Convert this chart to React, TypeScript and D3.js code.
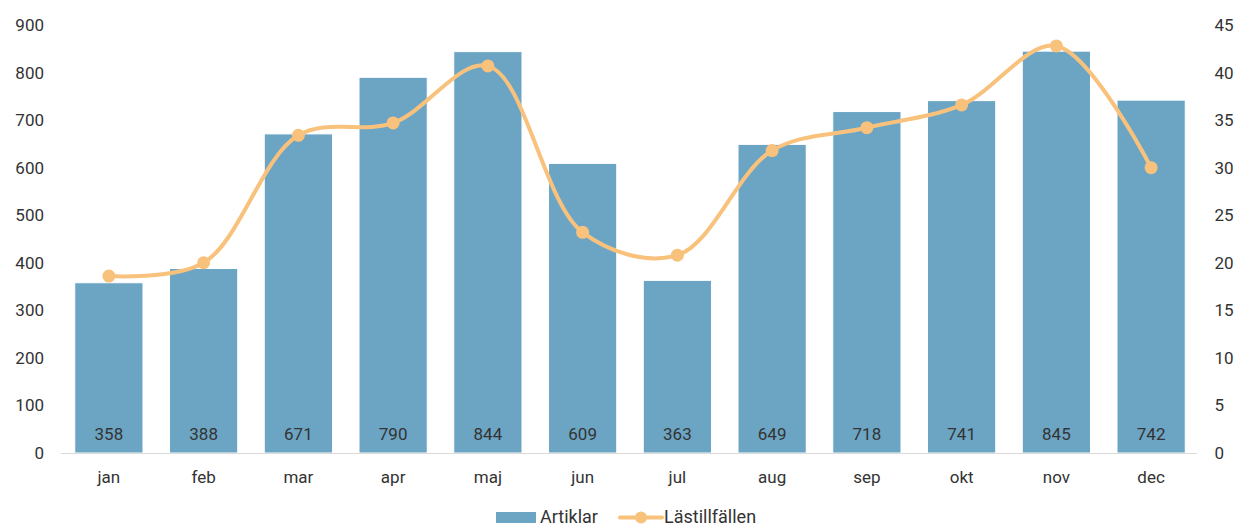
import React, { useEffect, useRef } from "react";
import * as d3 from "d3";

const months = ["jan", "feb", "mar", "apr", "maj", "jun", "jul", "aug", "sep", "okt", "nov", "dec"];
const artiklar = [358, 388, 671, 790, 844, 609, 363, 649, 718, 741, 845, 742];
const lastillfallen = [18.6, 20.0, 33.4, 34.7, 40.7, 23.2, 20.8, 31.8, 34.2, 36.6, 42.8, 30.0];
const leftTicks = [0, 100, 200, 300, 400, 500, 600, 700, 800, 900];
const rightTicks = [0, 5, 10, 15, 20, 25, 30, 35, 40, 45];

const BAR = "#6ca5c4";
const LINE = "#f9c27c";
const TEXT = "#333333";
const FS = "17px";

const App = () => {
  const ref = useRef<SVGSVGElement>(null);

  useEffect(() => {
    const width = 1239;
    const height = 526;
    const left = 61.5, right = 1198.5, top = 25, bottom = 453;

    const svg = d3.select(ref.current);
    svg.selectAll("*").remove();
    svg.attr("width", width).attr("height", height)
      .style("display", "block")
      .style("position", "absolute")
      .style("left", "0px")
      .style("top", "0px")
      .style("font-family", "Roboto, sans-serif");

    const x = d3.scaleBand().domain(months).range([left, right]).paddingInner(0.28).paddingOuter(0.14);
    const y = d3.scaleLinear().domain([0, 900]).range([bottom, top]);
    const y2 = d3.scaleLinear().domain([0, 45]).range([bottom, top]);

    // bars
    svg.append("g").selectAll("rect")
      .data(artiklar)
      .enter()
      .append("rect")
      .attr("x", (d, i) => x(months[i])!)
      .attr("y", (d) => y(d))
      .attr("width", x.bandwidth())
      .attr("height", (d) => bottom - y(d))
      .attr("fill", BAR)
      .attr("stroke", "#ffffff")
      .attr("stroke-width", 1);

    // baseline
    svg.append("line")
      .attr("x1", 61).attr("x2", 1197)
      .attr("y1", bottom + 0.5).attr("y2", bottom + 0.5)
      .attr("stroke", "#d9d9d9");

    // bar labels
    svg.append("g").selectAll("text")
      .data(artiklar)
      .enter()
      .append("text")
      .attr("x", (d, i) => x(months[i])! + x.bandwidth() / 2)
      .attr("y", bottom - 19)
      .attr("dy", "0.35em")
      .attr("text-anchor", "middle")
      .style("font-size", FS)
      .style("fill", TEXT)
      .text((d) => d);

    // left axis
    svg.append("g").selectAll("text")
      .data(leftTicks)
      .enter()
      .append("text")
      .attr("x", 44)
      .attr("y", (d) => y(d))
      .attr("dy", "0.35em")
      .attr("text-anchor", "end")
      .style("font-size", FS)
      .style("fill", TEXT)
      .text((d) => d);

    // right axis
    svg.append("g").selectAll("text")
      .data(rightTicks)
      .enter()
      .append("text")
      .attr("x", 1214.5)
      .attr("y", (d) => y2(d))
      .attr("dy", "0.35em")
      .attr("text-anchor", "start")
      .style("font-size", FS)
      .style("fill", TEXT)
      .text((d) => d);

    // x labels
    svg.append("g").selectAll("text")
      .data(months)
      .enter()
      .append("text")
      .attr("x", (d) => x(d)! + x.bandwidth() / 2)
      .attr("y", 477)
      .attr("dy", "0.35em")
      .attr("text-anchor", "middle")
      .style("font-size", FS)
      .style("fill", TEXT)
      .text((d) => d);

    // line
    const line = d3.line<number>()
      .x((d, i) => x(months[i])! + x.bandwidth() / 2)
      .y((d) => y2(d))
      .curve(d3.curveCatmullRom.alpha(0.5));

    svg.append("path")
      .datum(lastillfallen)
      .attr("d", line)
      .attr("fill", "none")
      .attr("stroke", LINE)
      .attr("stroke-width", 4)
      .attr("stroke-linecap", "round");

    svg.append("g").selectAll("circle")
      .data(lastillfallen)
      .enter()
      .append("circle")
      .attr("cx", (d, i) => x(months[i])! + x.bandwidth() / 2)
      .attr("cy", (d) => y2(d))
      .attr("r", 6.5)
      .attr("fill", LINE);

    // legend
    const lg = svg.append("g");
    lg.append("rect")
      .attr("x", 496).attr("y", 512).attr("width", 40).attr("height", 11)
      .attr("fill", BAR);
    lg.append("text")
      .attr("x", 540).attr("y", 517).attr("dy", "0.35em")
      .style("font-size", "18px").style("fill", TEXT)
      .text("Artiklar");
    lg.append("line")
      .attr("x1", 620).attr("x2", 662).attr("y1", 517.5).attr("y2", 517.5)
      .attr("stroke", LINE).attr("stroke-width", 4).attr("stroke-linecap", "round");
    lg.append("circle")
      .attr("cx", 641).attr("cy", 517.5).attr("r", 6).attr("fill", LINE);
    lg.append("text")
      .attr("x", 664).attr("y", 517).attr("dy", "0.35em")
      .style("font-size", "18px").style("fill", TEXT)
      .text("Lästillfällen");
  }, []);

  return <svg ref={ref}></svg>;
};

export default App;
